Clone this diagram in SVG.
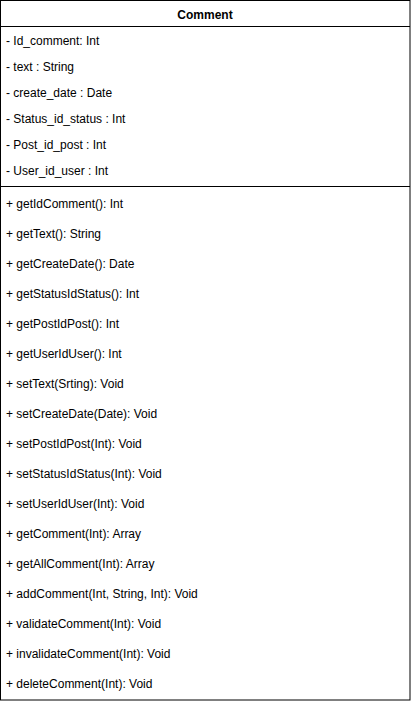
<svg xmlns="http://www.w3.org/2000/svg" width="411" height="704" viewBox="0 0 411 704">
<style>
.t{font-family:"Liberation Sans",Arial,sans-serif;font-size:12px;fill:#000}
.b{font-weight:bold}
.ln{stroke:#000;stroke-width:1;fill:none}
</style>
<rect width="411" height="704" fill="#fff"/>
<g id="comment">
<rect class="ln" x="0.5" y="0.5" width="409.5" height="699.5" fill="#fff"/>
<line class="ln" x1="0.5" y1="26.5" x2="410" y2="26.5"/>
<line class="ln" x1="0.5" y1="186.5" x2="410" y2="186.5"/>
<text class="t b" x="205" y="19" text-anchor="middle">Comment</text>
<g class="t">
<text x="6" y="45">- Id_comment: Int</text>
<text x="6" y="71">- text : String</text>
<text x="6" y="97">- create_date : Date</text>
<text x="6" y="123">- Status_id_status : Int</text>
<text x="6" y="149">- Post_id_post : Int</text>
<text x="6" y="175">- User_id_user : Int</text>
<text x="6" y="208">+ getIdComment(): Int</text>
<text x="6" y="238">+ getText(): String</text>
<text x="6" y="268">+ getCreateDate(): Date</text>
<text x="6" y="298">+ getStatusIdStatus(): Int</text>
<text x="6" y="328">+ getPostIdPost(): Int</text>
<text x="6" y="358">+ getUserIdUser(): Int</text>
<text x="6" y="388">+ setText(Srting): Void</text>
<text x="6" y="418">+ setCreateDate(Date): Void</text>
<text x="6" y="448">+ setPostIdPost(Int): Void</text>
<text x="6" y="478">+ setStatusIdStatus(Int): Void</text>
<text x="6" y="508">+ setUserIdUser(Int): Void</text>
<text x="6" y="538">+ getComment(Int): Array</text>
<text x="6" y="568">+ getAllComment(Int): Array</text>
<text x="6" y="598">+ addComment(Int, String, Int): Void</text>
<text x="6" y="628">+ validateComment(Int): Void</text>
<text x="6" y="658">+ invalidateComment(Int): Void</text>
<text x="6" y="688">+ deleteComment(Int): Void</text>
</g>
</g>
<g id="connectors"/>
</svg>
